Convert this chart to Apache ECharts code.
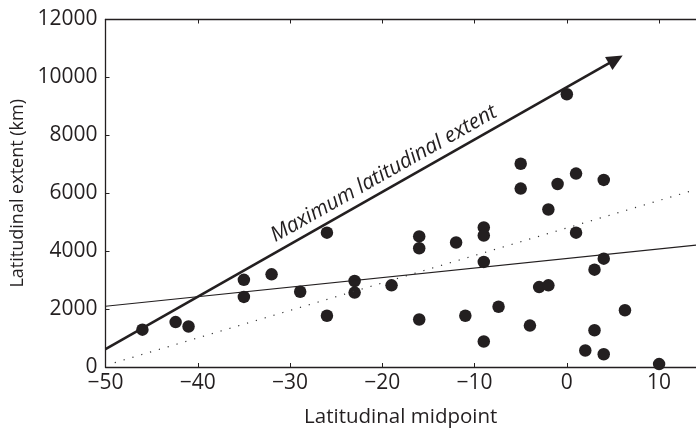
<!DOCTYPE html>
<html>
<head>
<meta charset="utf-8">
<script src="https://cdn.jsdelivr.net/npm/echarts@6/dist/echarts.min.js"></script>
<style>html,body{margin:0;padding:0;background:#fff}#c{width:696px;height:433px}</style>
</head>
<body>
<div id="c"></div>
<script>
// Data
const pointX = [-46, -42.4, -41, -35, -35, -32, -28.9, -26, -26, -23, -23, -19, -16, -16, -16, -12, -11, -9, -9, -9, -9, -7.4, -4, -3, -2, -2, 1, 3, 4, 3, 2, 4, 6.3, 10, 0, -5, -5, -1, 1, 4];
const pointY = [1290, 1550, 1400, 3010, 2420, 3200, 2600, 4640, 1770, 2970, 2570, 2820, 4510, 4100, 1640, 4300, 1770, 4820, 4540, 3630, 880, 2080, 1430, 2760, 2820, 5440, 4640, 3360, 3740, 1270, 570, 440, 1960, 100, 9420, 7020, 6160, 6320, 6680, 6460];
const regX = [-50, 14];
const regY = [2100, 4210];
const dotX = [-49, 14];
const dotY = [150, 6130];
const arrowX = [-50, 5.3];
const arrowY = [620, 10620];
const arrowLabel = 'Maximum latitudinal extent';
const xTicks = [-50, 14, 10];
const yTicks = [0, 12000, 2000];
const xTitle = 'Latitudinal midpoint';
const yTitle = 'Latitudinal extent (km)';

const FONT = '"Open Sans", "Noto Sans", sans-serif';
const INK = '#231f20';
const chart = echarts.init(document.getElementById('c'), null, {renderer: 'canvas'});
const fmt = v => String(v).replace('-', '\u2212');

const option = {
  animation: false,
  backgroundColor: '#fff',
  grid: {left: 105.5, right: -1.5, top: 19.5, bottom: 62, containLabel: false},
  xAxis: [{
    type: 'value', min: xTicks[0], max: xTicks[1], interval: xTicks[2],
    position: 'bottom',
    axisLine: {onZero: false, lineStyle: {color: INK, width: 1.3}},
    axisTick: {inside: true, length: 4, lineStyle: {color: INK, width: 1}},
    splitLine: {show: false},
    axisLabel: {fontFamily: FONT, fontSize: 21, color: INK, margin: 6, showMaxLabel: false, formatter: fmt},
    name: xTitle, nameLocation: 'middle', nameGap: 40,
    nameTextStyle: {fontFamily: FONT, fontSize: 20.5, color: INK}
  }, {
    type: 'value', min: xTicks[0], max: xTicks[1], interval: xTicks[2],
    position: 'top',
    axisLine: {onZero: false, lineStyle: {color: INK, width: 1.3}},
    axisTick: {inside: true, length: 4, lineStyle: {color: INK, width: 1}},
    splitLine: {show: false},
    axisLabel: {show: false}
  }],
  yAxis: [{
    type: 'value', min: yTicks[0], max: yTicks[1], interval: yTicks[2],
    axisLine: {show: true, onZero: false, lineStyle: {color: INK, width: 1.3}},
    axisTick: {show: true, inside: true, length: 4, lineStyle: {color: INK, width: 1}},
    splitLine: {show: false},
    axisLabel: {fontFamily: FONT, fontSize: 21, color: INK, margin: 8, formatter: v => String(v)},
    name: yTitle, nameLocation: 'middle', nameGap: 76,
    nameTextStyle: {fontFamily: FONT, fontSize: 18, color: INK}
  }],
  series: [
    {
      type: 'line', data: dotX.map((x, i) => [x, dotY[i]]), symbol: 'none', silent: true,
      lineStyle: {color: '#333', width: 1.2, type: [1.2, 8]}
    },
    {
      type: 'line', data: regX.map((x, i) => [x, regY[i]]), symbol: 'none', silent: true,
      lineStyle: {color: INK, width: 1.1}
    },
    {
      type: 'scatter', data: pointX.map((x, i) => [x, pointY[i]]),
      symbol: 'circle', symbolSize: 12.5, itemStyle: {color: INK, opacity: 1},
      markLine: {
        silent: true, symbol: ['none', 'triangle'], symbolSize: [15, 16],
        lineStyle: {color: INK, width: 2.6, type: 'solid'},
        label: {show: false},
        data: [[{coord: [arrowX[0], arrowY[0]]}, {coord: [arrowX[1], arrowY[1]]}]]
      }
    }
  ]
};
chart.setOption(option);

// Place the rotated label along the arrow, derived from the arrow's data coords
const p0 = chart.convertToPixel({gridIndex: 0}, [arrowX[0], arrowY[0]]);
const p1 = chart.convertToPixel({gridIndex: 0}, [arrowX[1], arrowY[1]]);
const dx = p1[0] - p0[0], dy = p1[1] - p0[1];
const len = Math.sqrt(dx * dx + dy * dy);
const ux = dx / len, uy = dy / len;
const t = 0.56;
const off = 15;
const cx = p0[0] + dx * t + uy * off;
const cy = p0[1] + dy * t - ux * off;
const ang = Math.atan2(-dy, dx);
chart.setOption({
  graphic: [{
    type: 'text', x: cx, y: cy, rotation: ang, silent: true,
    style: {text: arrowLabel, font: 'italic 21px ' + FONT, fill: INK, align: 'center', verticalAlign: 'middle'}
  }]
});
</script>
</body>
</html>
